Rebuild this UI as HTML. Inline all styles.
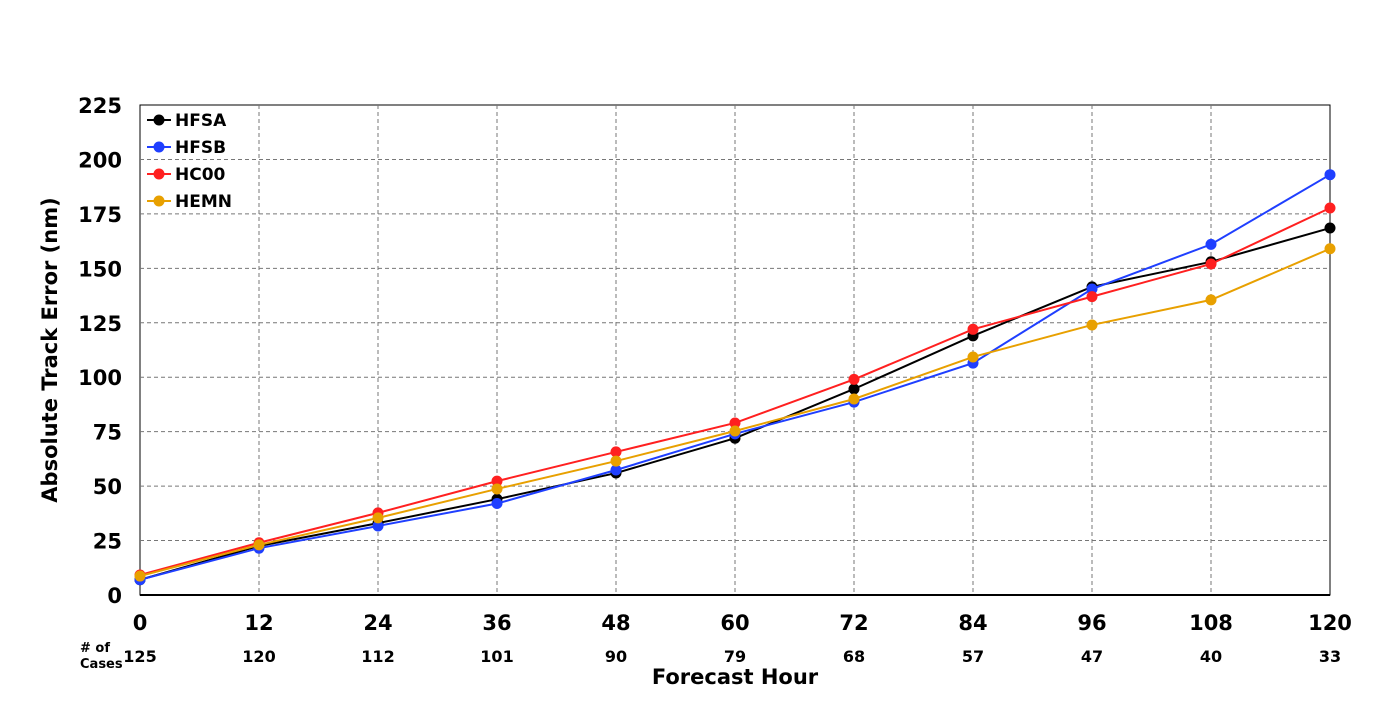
<!DOCTYPE html>
<html><head><meta charset="utf-8"><style>
body{margin:0;background:#fff;font-family:"Liberation Sans","DejaVu Sans",sans-serif}
</style></head><body>
<svg id="chart" width="1400" height="700" xmlns="http://www.w3.org/2000/svg" font-family="DejaVu Sans, Liberation Sans, sans-serif" font-weight="bold"></svg>
<script>
const hours=[0,12,24,36,48,60,72,84,96,108,120];
const cases=[125,120,112,101,90,79,68,57,47,40,33];
const yTicks=[0,25,50,75,100,125,150,175,200,225];
const seriesNames=["HFSA","HFSB","HC00","HEMN"];
const seriesColors=["#000000","#1f3fff","#ff2020","#e8a000"];
const hfsa=[7,22.5,33,44,56,72,94.6,119,141.5,153,168.5];
const hfsb=[7,21.5,31.7,42,57.4,74,88.6,106.5,140.5,161,193];
const hc00=[9.2,24,37.7,52.3,65.7,79,99,122,137,152,177.7];
const hemn=[8.7,23,35.4,48.7,61.5,75.3,90,109.3,124,135.5,159];
const allSeries=[hfsa,hfsb,hc00,hemn];
const svg=document.getElementById('chart');
const NS="http://www.w3.org/2000/svg";
const X0=140,X1=1330,Y0=595,Y1=105;
const xs=v=>X0+(v-0)/120*(X1-X0);
const ys=v=>Y0-(v/225)*(Y0-Y1);
function el(t,a,txt){const e=document.createElementNS(NS,t);for(const k in a)e.setAttribute(k,a[k]);if(txt!==undefined)e.textContent=txt;svg.appendChild(e);return e;}
let r=el('rect',{x:X0,y:Y1,width:X1-X0,height:Y0-Y1,fill:'#fff',stroke:'#000','stroke-width':1});


yTicks.forEach(v=>{
 if(v>0&&v<225){let g=el('line',{x1:X0,x2:X1,y1:ys(v),y2:ys(v),stroke:'#777','stroke-dasharray':'4,3'});
 
 }
 let t=el('text',{x:X0-18,y:ys(v)+8,'text-anchor':'end','font-size':21},v);
 
 
});
hours.forEach((h,i)=>{
 if(i>0&&i<hours.length-1){let g=el('line',{x1:xs(h),x2:xs(h),y1:Y1,y2:Y0,stroke:'#777','stroke-dasharray':'4,3'});
 
 }
 let t=el('text',{x:xs(h),y:630,'text-anchor':'middle','font-size':21},h);
 
 
 let c=el('text',{x:xs(h),y:662,'text-anchor':'middle','font-size':16},cases[i]);
 
 
});
let ax=el('line',{x1:X0,x2:X1,y1:Y0,y2:Y0,stroke:'#000','stroke-width':2});


allSeries.forEach((s,k)=>{
 let p=el('polyline',{points:s.map((v,i)=>xs(hours[i])+','+ys(v)).join(' '),fill:'none',stroke:seriesColors[k],'stroke-width':2});
 
 
 s.forEach((v,i)=>{let c=el('circle',{cx:xs(hours[i]),cy:ys(v),r:5.5,fill:seriesColors[k]});
 
 });
});
seriesNames.forEach((n,k)=>{
 const y=120+k*27;
 let l=el('line',{x1:147,x2:171,y1:y,y2:y,stroke:seriesColors[k],'stroke-width':2});
 
 
 let c=el('circle',{cx:159,cy:y,r:5.5,fill:seriesColors[k]});
 
 
 let t=el('text',{x:175,y:y+6,'font-size':17},n);
 
 
});
let yt=el('text',{x:57,y:350,'text-anchor':'middle','font-size':21,transform:'rotate(-90 57 350)'},'Absolute Track Error (nm)');


let xt=el('text',{x:735,y:684,'text-anchor':'middle','font-size':21},'Forecast Hour');


let n1=el('text',{x:80,y:652,'font-size':13},'# of');


let n2=el('text',{x:80,y:668,'font-size':13},'Cases');


</script>
</body></html>
